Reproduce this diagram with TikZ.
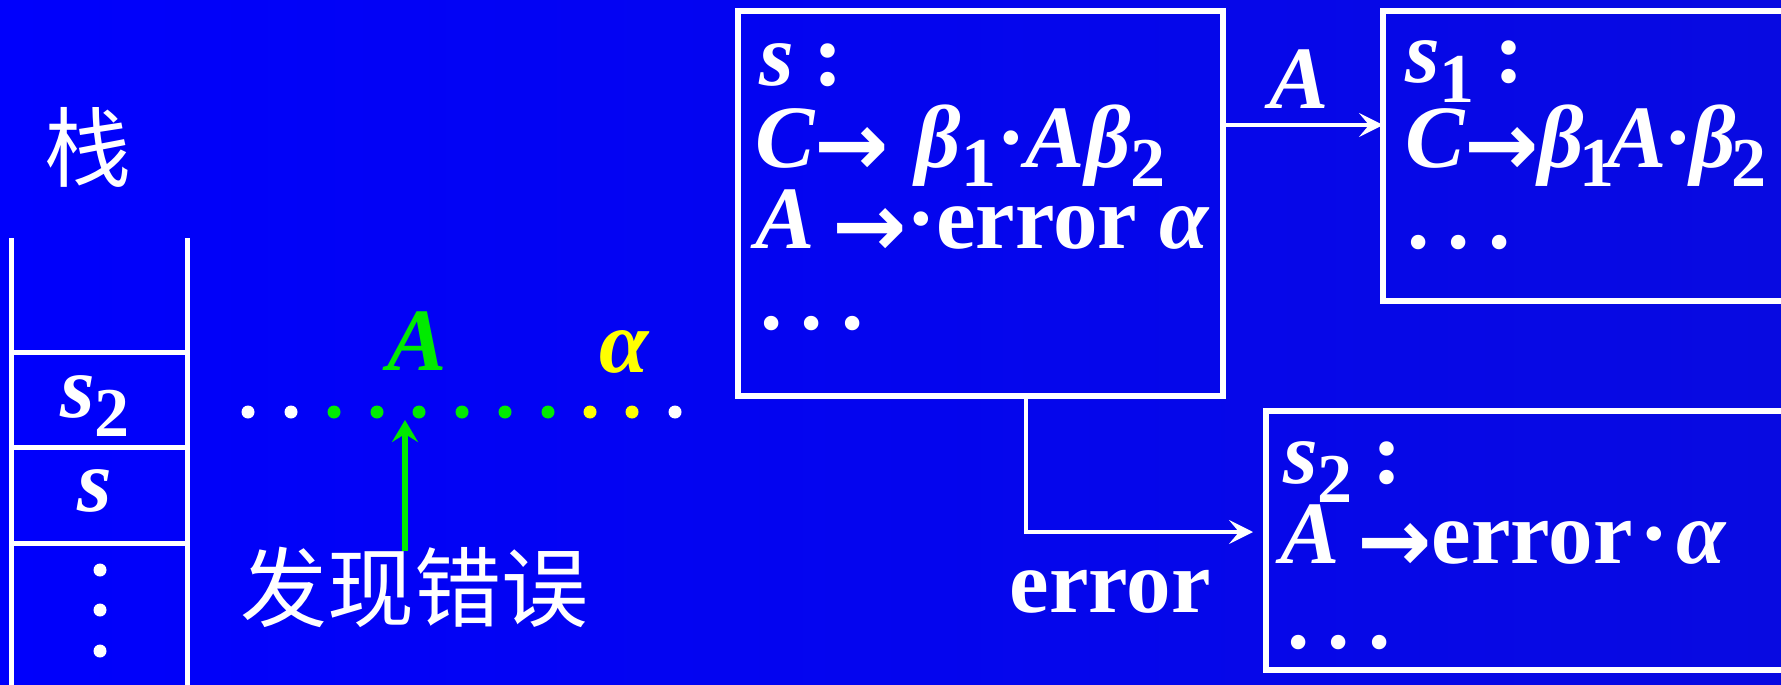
\documentclass[tikz,border=0pt]{standalone}
\usepackage{fontspec}
\setmainfont{Liberation Serif}
\newfontfamily\cjk{Noto Sans CJK SC}
\newfontfamily\arrfont{DejaVu Sans}
\usetikzlibrary{arrows.meta}
\definecolor{bgleft}{RGB}{0,0,252}
\definecolor{bgright}{RGB}{8,10,225}
\definecolor{dgreen}{RGB}{0,235,0}
\definecolor{dyellow}{RGB}{255,255,0}
\newcommand{\sbs}[1]{\raisebox{-0.22em}{\fontsize{70}{70}\selectfont\upshape #1}}
\newcommand{\rarr}{{\arrfont\bfseries\upshape\raisebox{-0.09em}{→}}}
\tikzset{
  every node/.style={inner sep=0pt, outer sep=0pt},
  big/.style={font=\fontsize{89}{100}\selectfont\bfseries},
  txt/.style={big, text=white, anchor=base west},
  lbl/.style={big, text=white, anchor=base},
  cjktxt/.style={text=white, font=\fontsize{87}{90}\selectfont\cjk},
  statebox/.style={draw=white, line width=5.5pt, rectangle},
  stackline/.style={draw=white, line width=5pt},
  warrow/.style={draw=white, line width=4.5pt, -{Stealth[length=24pt,width=24pt,inset=10pt]}},
  garrow/.style={draw=dgreen, line width=5.5pt, -{Stealth[length=22pt,width=26pt,inset=8pt]}},
}
\begin{document}
\begin{tikzpicture}[x=1pt,y=-1pt]
\useasboundingbox (0,0) rectangle (1781,685);
\clip (0,0) rectangle (1781,685);
\shade[left color=bgleft, right color=bgright] (0,0) rectangle (1781,685);

% stack
\node[cjktxt] (zhan) at (88,147) {栈};
\draw[stackline] (11,238) -- (11,700);
\draw[stackline] (187,238) -- (187,700);
\draw[stackline] (9,352) -- (189,352);
\draw[stackline] (9,447) -- (189,447);
\draw[stackline] (9,543) -- (189,543);
\node[txt] (cs2) at (60,417) {\itshape s\sbs{2}};
\node[txt] (cs) at (77,511) {\itshape s};
\foreach \y in {570,610,651} \fill[white] (100,\y) circle (6.5pt);

% input string
\node[lbl, text=dgreen] (symA) at (417,370) {\itshape A};
\node[lbl, text=dyellow] (symalpha) at (624,372) {\itshape α};
\foreach \x/\c in {248/white,291/white,334/dgreen,377/dgreen,419/dgreen,462/dgreen,505/dgreen,548/dgreen,590/dyellow,632/dyellow,675/white}
  \fill[\c] (\x,412) circle (6.5pt);
\node[cjktxt] (found) at (414,587) {发现错误};
\coordinate (gstart) at (405,551);
\coordinate (gend) at (405,420);
\draw[garrow] (gstart) -- (gend);

% state boxes
\node[statebox, minimum width=485pt, minimum height=385pt] (box1) at (980.5,203.5) {};
\node[statebox, minimum width=417pt, minimum height=290pt] (box2) at (1591.5,156) {};
\node[statebox, minimum width=534pt, minimum height=259pt] (box3) at (1533,540.5) {};

\node[txt] (b1l1) at (759,85) {\itshape s\upshape\hspace{0.22em}:};
\node[txt] (b1l2) at (755,167) {\itshape C\rarr\hspace{0.3em}\itshape β\sbs{1}\upshape·\itshape Aβ\sbs{2}};
\node[txt] (b1l3) at (755,248) {\itshape A\upshape\hspace{0.2em}\rarr·error \itshape α};
\node[txt] (b1l4) at (760,329) {.\hspace{0.21em}.\hspace{0.21em}.};

\node[txt] (b2l1) at (1405,83) {\itshape s\sbs{1}\upshape\hspace{0.22em}:};
\node[txt] (b2l2) at (1405,167) {\itshape C\rarr\itshape β\hspace{-0.06em}\sbs{1}\hspace{-0.08em}A\upshape\hspace{-0.03em}·\hspace{-0.03em}\itshape β\hspace{-0.06em}\sbs{2}};
\node[txt] (b2l3) at (1407,248) {.\hspace{0.21em}.\hspace{0.21em}.};

\node[txt] (b3l1) at (1283,483) {\itshape s\sbs{2}\upshape\hspace{0.22em}:};
\node[txt] (b3l2) at (1280,563) {\itshape A\upshape\hspace{0.2em}\rarr error\hspace{0.08em}·\hspace{0.08em}\itshape α};
\node[txt] (b3l3) at (1287,648) {.\hspace{0.21em}.\hspace{0.21em}.};

% transitions
\coordinate (ay) at (0,125);
\draw[warrow] (box1.east |- ay) -- (box2.west |- ay);
\node[lbl] (labA) at (1299,108) {\itshape A};
\coordinate (ec) at (1026,532);
\draw[warrow, shorten >=13pt] (box1.south -| ec) |- (box3.west |- ec);
\node[lbl] (laberr) at (1110,612) {error};
\end{tikzpicture}
\end{document}
